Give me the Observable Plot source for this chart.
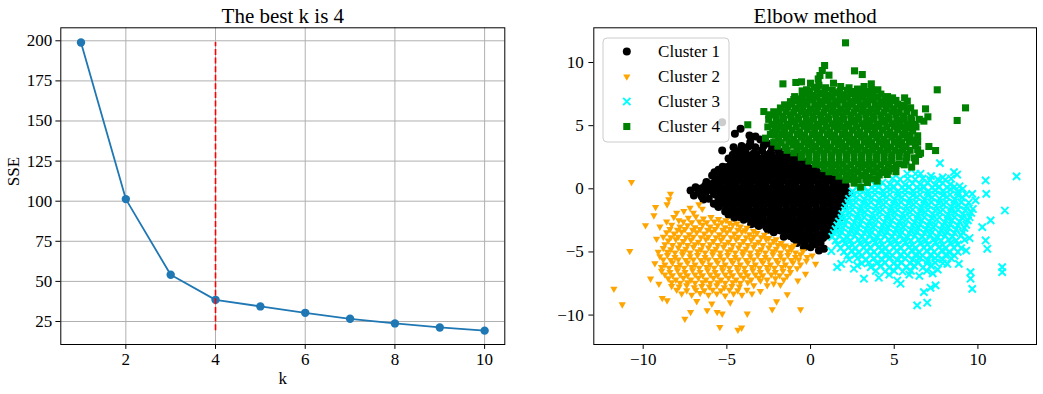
<!DOCTYPE html>
<html><head><meta charset="utf-8">
<script src="https://cdn.jsdelivr.net/npm/d3@7"></script>
<script src="https://cdn.jsdelivr.net/npm/@observablehq/plot@0.6"></script>
<style>
body{margin:0;background:#fff;}
#wrap{position:relative;width:1043px;height:394px;overflow:hidden;background:#fff;}
</style></head><body><div id="wrap"></div>
<script>
// ---------- data: elbow curve ----------
const kValues = [1,2,3,4,5,6,7,8,9,10];
const sseValues = [198.9,101.3,54.1,38.5,34.4,30.4,26.7,23.8,21.3,19.3];
const bestK = 4;
const kTicks = [2,4,6,8,10];
const sseTicks = [25,50,75,100,125,150,175,200];
const leftTitle = "The best k is 4";
const rightTitle = "Elbow method";

// ---------- data: clusters ----------
const clusterNames = ["Cluster 1","Cluster 2","Cluster 3","Cluster 4"];
const xyTicks = [-10,-5,0,5,10];
const cluster1 = [
[-4.18,4.75],[-4.52,4.35],[-3.65,4.22],[-3.29,4.14],[-5.28,5.28],
[-4.12,3.38],[-3.6,3.7],[-3.0,3.9],[-2.6,3.6],[-3.3,3.3],[-2.3,3.2],
[-5.28,3.03],[-4.4,2.9],[-3.9,3.0],[-3.4,2.8],[-2.9,3.05],[-2.4,2.85],[-1.9,3.0],[-1.6,2.7],
[-4.9,2.4],[-4.4,2.5],[-3.95,2.35],[-3.5,2.55],[-3.0,2.4],[-2.55,2.5],[-2.1,2.35],[-1.6,2.5],[-1.15,2.3],[-0.9,2.55],
[-4.74,1.98],[-4.98,1.72],[-4.5,2.05],[-4.0,1.9],[-3.55,2.1],[-3.1,1.85],[-2.6,2.05],[-2.15,1.9],[-1.7,2.1],[-1.25,1.85],[-0.8,2.05],[-0.35,1.9],
[-5.5,1.5],[-5.05,1.4],[-4.6,1.55],[-4.15,1.4],[-3.7,1.6],[-3.25,1.45],[-2.8,1.55],[-2.35,1.4],[-1.9,1.6],[-1.45,1.4],[-1.0,1.55],[-0.55,1.45],[-0.1,1.6],[0.35,1.4],[0.6,1.2],
[-5.74,1.32],[-5.88,1.06],[-5.4,0.95],[-4.95,1.05],[-4.5,0.9],[-4.05,1.1],[-3.6,0.95],[-3.15,1.05],[-2.7,0.9],[-2.25,1.1],[-1.8,0.95],[-1.35,1.05],[-0.9,0.9],[-0.45,1.1],[0.0,0.95],[0.45,1.05],[0.9,0.9],[1.3,1.0],
[-6.22,0.53],[-5.8,0.45],[-5.35,0.55],[-4.9,0.4],[-4.45,0.6],[-4.0,0.45],[-3.55,0.55],[-3.1,0.4],[-2.65,0.6],[-2.2,0.45],[-1.75,0.55],[-1.3,0.4],[-0.85,0.6],[-0.4,0.45],[0.05,0.55],[0.5,0.4],[0.95,0.6],[1.4,0.5],[1.79,0.53],[1.39,0.13],
[-6.87,0.13],[-7.17,-0.13],[-6.5,0.05],[-6.05,-0.05],[-5.6,0.1],[-5.15,-0.05],[-4.7,0.05],[-4.25,-0.1],[-3.8,0.05],[-3.35,-0.05],[-2.9,0.1],[-2.45,-0.05],[-2.0,0.05],[-1.55,-0.1],[-1.1,0.05],[-0.65,-0.05],[-0.2,0.1],[0.25,-0.05],[0.7,0.05],[1.15,-0.1],[1.6,0.05],[2.0,-0.05],[2.29,-0.34],
[-6.97,-0.53],[-6.5,-0.6],[-6.08,-0.79],[-5.7,-0.45],[-5.25,-0.6],[-4.8,-0.45],[-4.35,-0.55],[-3.9,-0.4],[-3.45,-0.6],[-3.0,-0.45],[-2.55,-0.55],[-2.1,-0.4],[-1.65,-0.6],[-1.2,-0.45],[-0.75,-0.55],[-0.3,-0.4],[0.15,-0.6],[0.6,-0.45],[1.05,-0.55],[1.5,-0.4],[1.95,-0.6],
[-5.78,-1.19],[-5.3,-1.05],[-4.85,-0.95],[-4.4,-1.1],[-3.95,-0.95],[-3.5,-1.05],[-3.05,-0.9],[-2.6,-1.1],[-2.15,-0.95],[-1.7,-1.05],[-1.25,-0.9],[-0.8,-1.1],[-0.35,-0.95],[0.1,-1.05],[0.55,-0.9],[1.0,-1.1],[1.45,-0.95],[1.85,-1.05],
[-5.5,-1.45],[-5.05,-1.6],[-4.6,-1.45],[-4.15,-1.55],[-3.7,-1.4],[-3.25,-1.6],[-2.8,-1.45],[-2.35,-1.55],[-1.9,-1.4],[-1.45,-1.6],[-1.0,-1.45],[-0.55,-1.55],[-0.1,-1.4],[0.35,-1.6],[0.8,-1.45],[1.25,-1.55],[1.7,-1.45],
[-4.9,-2.05],[-4.45,-1.95],[-4.0,-2.1],[-3.55,-1.95],[-3.1,-2.05],[-2.65,-1.9],[-2.2,-2.1],[-1.75,-1.95],[-1.3,-2.05],[-0.85,-1.9],[-0.4,-2.1],[0.05,-1.95],[0.5,-2.05],[0.95,-1.9],[1.4,-2.1],[1.79,-2.24],
[-4.0,-2.45],[-3.55,-2.55],[-3.1,-2.4],[-2.65,-2.6],[-2.2,-2.45],[-1.75,-2.55],[-1.3,-2.4],[-0.85,-2.6],[-0.4,-2.45],[0.05,-2.55],[0.5,-2.4],[0.95,-2.6],[1.35,-2.45],
[-3.1,-2.95],[-2.65,-3.05],[-2.2,-2.9],[-1.75,-3.1],[-1.3,-2.95],[-0.85,-3.05],[-0.4,-2.9],[0.05,-3.1],[0.5,-2.95],[0.95,-3.05],[1.49,-3.03],[1.2,-3.3],
[-2.2,-3.45],[-1.79,-3.3],[-1.39,-3.56],[-0.95,-3.45],[-0.5,-3.55],[-0.05,-3.4],[0.4,-3.6],[0.85,-3.45],
[-1.0,-3.96],[-0.6,-4.1],[-0.15,-3.95],[0.3,-4.05],[0.75,-3.9],
[-0.4,-4.62],[0.0,-4.62],[0.3,-4.4],[0.5,-4.88],[0.8,-4.75],[0.6,-4.3],
[-4.6,3.3],[-4.15,3.2],[-3.7,3.35],[-2.8,3.4],[-2.05,3.35],
[-4.65,2.7],[-4.2,2.75],[-3.75,2.65],[-3.25,2.75],[-2.75,2.7],[-2.3,2.65],[-1.85,2.75],[-1.35,2.65],
[-4.75,2.2],[-4.25,2.25],[-3.8,2.2],[-3.3,2.25],[-2.85,2.2],[-2.4,2.25],[-1.9,2.2],[-1.45,2.25],[-1.0,2.2],[-0.55,2.2],[-0.2,2.15],
[-5.25,1.75],[-4.3,1.75],[-3.8,1.7],[-3.35,1.75],[-2.85,1.7],[-2.4,1.75],[-1.95,1.7],[-1.5,1.75],[-1.05,1.7],[-0.6,1.75],[-0.15,1.7],[0.3,1.7],
[-5.2,1.25],[-4.75,1.2],[-4.3,1.25],[-3.85,1.2],[-3.4,1.25],[-2.95,1.2],[-2.5,1.25],[-2.05,1.2],[-1.6,1.25],[-1.15,1.2],[-0.7,1.25],[-0.25,1.2],[0.2,1.25],[0.65,1.2],[1.1,1.25],
[-5.65,0.75],[-5.2,0.7],[-4.75,0.75],[-4.3,0.7],[-3.85,0.75],[-3.4,0.7],[-2.95,0.75],[-2.5,0.7],[-2.05,0.75],[-1.6,0.7],[-1.15,0.75],[-0.7,0.7],[-0.25,0.75],[0.2,0.7],[0.65,0.75],[1.1,0.7],[1.55,0.75],
[-6.3,0.25],[-5.85,0.2],[-5.4,0.25],[-4.95,0.2],[-4.5,0.25],[-4.05,0.2],[-3.6,0.25],[-3.15,0.2],[-2.7,0.25],[-2.25,0.2],[-1.8,0.25],[-1.35,0.2],[-0.9,0.25],[-0.45,0.2],[0.0,0.25],[0.45,0.2],[0.9,0.25],[1.35,0.3],[1.8,0.2],[2.1,0.25],
[-6.7,-0.3],[-6.25,-0.25],[-5.8,-0.3],[-5.35,-0.25],[-4.9,-0.3],[-4.45,-0.25],[-4.0,-0.3],[-3.55,-0.25],[-3.1,-0.3],[-2.65,-0.25],[-2.2,-0.3],[-1.75,-0.25],[-1.3,-0.3],[-0.85,-0.25],[-0.4,-0.3],[0.05,-0.25],[0.5,-0.3],[0.95,-0.25],[1.4,-0.3],[1.85,-0.25],
[-6.4,-0.85],[-5.5,-0.8],[-5.05,-0.75],[-4.6,-0.8],[-4.15,-0.75],[-3.7,-0.8],[-3.25,-0.75],[-2.8,-0.8],[-2.35,-0.75],[-1.9,-0.8],[-1.45,-0.75],[-1.0,-0.8],[-0.55,-0.75],[-0.1,-0.8],[0.35,-0.75],[0.8,-0.8],[1.25,-0.75],[1.7,-0.8],[2.1,-0.75],
[-5.55,-1.3],[-5.1,-1.25],[-4.65,-1.3],[-4.2,-1.25],[-3.75,-1.3],[-3.3,-1.25],[-2.85,-1.3],[-2.4,-1.25],[-1.95,-1.3],[-1.5,-1.25],[-1.05,-1.3],[-0.6,-1.25],[-0.15,-1.3],[0.3,-1.25],[0.75,-1.3],[1.2,-1.25],[1.65,-1.3],[2.0,-1.3],
[-5.1,-1.8],[-4.7,-1.75],[-4.25,-1.8],[-3.8,-1.75],[-3.35,-1.8],[-2.9,-1.75],[-2.45,-1.8],[-2.0,-1.75],[-1.55,-1.8],[-1.1,-1.75],[-0.65,-1.8],[-0.2,-1.75],[0.25,-1.8],[0.7,-1.75],[1.15,-1.8],[1.6,-1.75],
[-4.55,-2.3],[-4.2,-2.25],[-3.75,-2.3],[-3.3,-2.25],[-2.85,-2.3],[-2.4,-2.25],[-1.95,-2.3],[-1.5,-2.25],[-1.05,-2.3],[-0.6,-2.25],[-0.15,-2.3],[0.3,-2.25],[0.75,-2.3],[1.2,-2.25],[1.55,-2.3],
[-3.55,-2.8],[-3.3,-2.75],[-2.85,-2.8],[-2.4,-2.75],[-1.95,-2.8],[-1.5,-2.75],[-1.05,-2.8],[-0.6,-2.75],[-0.15,-2.8],[0.3,-2.75],[0.75,-2.8],[1.2,-2.75],[1.5,-2.7],
[-2.55,-3.25],[-2.4,-3.2],[-1.95,-3.25],[-1.5,-3.2],[-1.05,-3.25],[-0.6,-3.2],[-0.15,-3.25],[0.3,-3.2],[0.75,-3.25],[1.0,-3.4],
[-1.6,-3.8],[-1.2,-3.75],[-0.75,-3.8],[-0.3,-3.75],[0.15,-3.8],[0.6,-3.75],[1.0,-3.7],
[-0.8,-4.3],[-0.35,-4.3],[0.1,-4.25]
];
const cluster2 = [
[-10.7,0.53],[-9.86,-2.9],[-8.37,-0.4],[-8.47,-0.84],[-8.57,-1.24],[-9.26,-1.45],[-9.36,-2.11],[-6.67,-1.24],[-6.47,-1.58],[-7.57,-1.77],[-7.87,-2.5],[-8.17,-2.24],
[-8.0,-1.9],[-8.6,-2.6],[-9.0,-3.0],[-7.2,-1.5],[-7.0,-1.9],
[-7.3,-2.3],[-6.85,-2.2],[-6.4,-2.35],[-5.95,-2.25],[-5.5,-2.4],[-5.05,-2.5],
[-8.3,-2.85],[-7.8,-3.0],[-7.35,-2.9],[-6.9,-3.05],[-6.45,-2.85],[-6.0,-3.0],[-5.55,-2.9],[-5.1,-3.05],[-4.65,-2.85],[-4.2,-3.0],[-3.8,-3.1],
[-8.6,-3.45],[-8.15,-3.55],[-7.7,-3.4],[-7.25,-3.6],[-6.8,-3.45],[-6.35,-3.55],[-5.9,-3.4],[-5.45,-3.6],[-5.0,-3.45],[-4.55,-3.55],[-4.1,-3.4],[-3.65,-3.6],[-3.2,-3.5],[-2.75,-3.65],
[-9.2,-3.96],[-8.5,-4.1],[-8.05,-4.0],[-7.6,-4.15],[-7.15,-4.05],[-6.7,-4.2],[-6.25,-4.0],[-5.8,-4.15],[-5.35,-4.05],[-4.9,-4.2],[-4.45,-4.0],[-4.0,-4.15],[-3.55,-4.05],[-3.1,-4.2],[-2.65,-4.0],[-2.2,-4.15],[-1.75,-4.3],[-1.2,-4.62],
[-10.8,-4.93],[-8.8,-4.7],[-8.35,-4.8],[-7.9,-4.65],[-7.45,-4.75],[-7.0,-4.6],[-6.55,-4.8],[-6.1,-4.65],[-5.65,-4.75],[-5.2,-4.6],[-4.75,-4.8],[-4.3,-4.65],[-3.85,-4.75],[-3.4,-4.6],[-2.95,-4.8],[-2.5,-4.65],[-2.05,-4.75],[-1.6,-4.6],[-1.15,-4.8],[-0.6,-5.2],
[-9.0,-5.35],[-8.55,-5.25],[-8.1,-5.4],[-7.65,-5.2],[-7.2,-5.35],[-6.75,-5.25],[-6.3,-5.4],[-5.85,-5.2],[-5.4,-5.35],[-4.95,-5.25],[-4.5,-5.4],[-4.05,-5.2],[-3.6,-5.35],[-3.15,-5.25],[-2.7,-5.4],[-2.25,-5.2],[-1.8,-5.35],[-1.35,-5.25],[-0.9,-5.4],[-0.2,-5.41],[0.1,-5.28],
[-9.3,-5.9],[-8.7,-6.0],[-8.25,-5.85],[-7.8,-6.0],[-7.35,-5.85],[-6.9,-6.0],[-6.45,-5.85],[-6.0,-6.0],[-5.55,-5.85],[-5.1,-6.0],[-4.65,-5.85],[-4.2,-6.0],[-3.75,-5.85],[-3.3,-6.0],[-2.85,-5.85],[-2.4,-6.0],[-1.95,-5.85],[-1.5,-6.0],[-1.05,-5.85],[-0.6,-6.0],[0.3,-5.94],
[-8.9,-6.5],[-8.4,-6.6],[-7.95,-6.45],[-7.5,-6.6],[-7.05,-6.45],[-6.6,-6.6],[-6.15,-6.45],[-5.7,-6.6],[-5.25,-6.45],[-4.8,-6.6],[-4.35,-6.45],[-3.9,-6.6],[-3.45,-6.45],[-3.0,-6.6],[-2.55,-6.45],[-2.1,-6.6],[-1.65,-6.5],[-1.2,-6.6],[-0.3,-6.73],
[-9.56,-7.12],[-8.5,-7.1],[-8.05,-7.2],[-7.6,-7.05],[-7.15,-7.2],[-6.7,-7.05],[-6.25,-7.2],[-5.8,-7.05],[-5.35,-7.2],[-4.9,-7.05],[-4.45,-7.2],[-4.0,-7.05],[-3.55,-7.2],[-3.1,-7.05],[-2.6,-7.2],[-2.1,-7.1],[-1.6,-7.2],[-0.76,-7.26],
[-9.06,-7.52],[-8.3,-7.7],[-7.85,-7.75],[-7.4,-7.65],[-6.95,-7.8],[-6.5,-7.7],[-6.05,-7.75],[-5.6,-7.65],[-5.15,-7.8],[-4.7,-7.7],[-4.25,-7.75],[-3.39,-7.65],[-2.99,-7.26],[-2.59,-7.65],[-1.39,-8.36],
[-7.7,-8.3],[-7.1,-8.4],[-6.6,-8.25],[-6.1,-8.4],[-5.6,-8.3],[-5.1,-8.45],[-4.6,-8.3],[-4.1,-8.4],[-3.5,-8.3],
[-8.86,-8.65],[-8.57,-8.84],[-7.51,-10.29],[-7.17,-9.76],[-6.18,-9.63],[-5.58,-9.76],[-5.28,-9.89],[-5.42,-10.95],[-4.34,-11.16],[-4.12,-11.0],[-3.78,-9.89],[-2.29,-9.55],[-2.03,-8.92],[-0.6,-9.55],[-6.8,-8.9],[-5.9,-9.1],[-4.8,-9.0],[-11.75,-7.92],[-11.25,-9.16],
[-7.6,-2.6],[-7.1,-2.65],[-6.65,-2.6],[-6.2,-2.65],[-5.75,-2.6],[-5.3,-2.65],[-4.85,-2.7],[-4.4,-2.75],
[-8.4,-3.2],[-7.95,-3.25],[-7.5,-3.2],[-7.05,-3.25],[-6.6,-3.2],[-6.15,-3.25],[-5.7,-3.2],[-5.25,-3.25],[-4.8,-3.2],[-4.35,-3.25],[-3.9,-3.3],[-3.4,-3.35],
[-8.8,-3.8],[-8.35,-3.85],[-7.9,-3.8],[-7.45,-3.85],[-7.0,-3.8],[-6.55,-3.85],[-6.1,-3.8],[-5.65,-3.85],[-5.2,-3.8],[-4.75,-3.85],[-4.3,-3.8],[-3.85,-3.85],[-3.4,-3.8],[-2.95,-3.85],[-2.5,-3.9],[-2.05,-4.0],
[-8.7,-4.4],[-8.25,-4.45],[-7.8,-4.4],[-7.35,-4.45],[-6.9,-4.4],[-6.45,-4.45],[-6.0,-4.4],[-5.55,-4.45],[-5.1,-4.4],[-4.65,-4.45],[-4.2,-4.4],[-3.75,-4.45],[-3.3,-4.4],[-2.85,-4.45],[-2.4,-4.4],[-1.95,-4.45],[-1.5,-4.5],[-1.0,-4.5],
[-9.1,-5.0],[-8.55,-5.0],[-8.1,-5.05],[-7.65,-4.95],[-7.2,-5.05],[-6.75,-4.95],[-6.3,-5.05],[-5.85,-4.95],[-5.4,-5.05],[-4.95,-4.95],[-4.5,-5.05],[-4.05,-4.95],[-3.6,-5.05],[-3.15,-4.95],[-2.7,-5.05],[-2.25,-4.95],[-1.8,-5.05],[-1.35,-4.95],[-0.9,-5.05],[-0.45,-4.95],
[-8.8,-5.6],[-8.35,-5.65],[-7.9,-5.6],[-7.45,-5.65],[-7.0,-5.6],[-6.55,-5.65],[-6.1,-5.6],[-5.65,-5.65],[-5.2,-5.6],[-4.75,-5.65],[-4.3,-5.6],[-3.85,-5.65],[-3.4,-5.6],[-2.95,-5.65],[-2.5,-5.6],[-2.05,-5.65],[-1.6,-5.6],[-1.15,-5.65],[-0.7,-5.6],[-0.25,-5.7],
[-8.9,-6.2],[-8.45,-6.25],[-8.0,-6.2],[-7.55,-6.25],[-7.1,-6.2],[-6.65,-6.25],[-6.2,-6.2],[-5.75,-6.25],[-5.3,-6.2],[-4.85,-6.25],[-4.4,-6.2],[-3.95,-6.25],[-3.5,-6.2],[-3.05,-6.25],[-2.6,-6.2],[-2.15,-6.25],[-1.7,-6.2],[-1.25,-6.25],[-0.8,-6.3],
[-8.7,-6.8],[-8.25,-6.85],[-7.8,-6.8],[-7.35,-6.85],[-6.9,-6.8],[-6.45,-6.85],[-6.0,-6.8],[-5.55,-6.85],[-5.1,-6.8],[-4.65,-6.85],[-4.2,-6.8],[-3.75,-6.85],[-3.3,-6.8],[-2.85,-6.85],[-2.35,-6.8],[-1.85,-6.85],[-1.4,-6.9],
[-8.3,-7.4],[-7.8,-7.45],[-7.35,-7.4],[-6.9,-7.45],[-6.45,-7.4],[-6.0,-7.45],[-5.55,-7.4],[-5.1,-7.45],[-4.65,-7.4],[-4.2,-7.45],[-3.75,-7.4],[-2.2,-7.5],[-1.8,-7.6],
[-8.0,-8.0],[-7.4,-8.05],[-6.85,-8.0],[-6.35,-8.05],[-5.85,-8.0],[-5.35,-8.05],[-4.85,-8.0],[-4.35,-8.05],[-3.8,-8.0],[-3.0,-8.1]
];
const cluster3 = [
[5.78,1.19],[6.27,1.19],[6.57,1.19],[8.57,1.32],[8.76,1.13],[7.73,2.03],[12.31,0.98],[10.46,0.66],[7.2,1.0],[7.9,0.9],
[3.4,0.45],[3.85,0.3],[4.3,0.5],[4.75,0.35],[5.2,0.5],[5.65,0.3],[6.1,0.45],[6.55,0.35],[7.0,0.5],[7.45,0.3],[7.9,0.45],[8.35,0.35],[8.9,0.2],[10.5,-0.4],
[2.5,-0.2],[2.95,-0.1],[3.4,-0.25],[3.85,-0.1],[4.3,-0.2],[4.75,-0.05],[5.2,-0.25],[5.65,-0.1],[6.1,-0.2],[6.55,-0.05],[7.0,-0.25],[7.45,-0.1],[7.9,-0.2],[8.35,-0.05],[8.8,-0.25],[9.66,-0.4],
[2.3,-0.8],[2.75,-0.7],[3.2,-0.85],[3.65,-0.7],[4.1,-0.8],[4.55,-0.65],[5.0,-0.85],[5.45,-0.7],[5.9,-0.8],[6.35,-0.65],[6.8,-0.85],[7.25,-0.7],[7.7,-0.8],[8.15,-0.65],[8.6,-0.85],[9.05,-0.7],[9.86,-0.92],
[2.1,-1.4],[2.55,-1.3],[3.0,-1.45],[3.45,-1.3],[3.9,-1.4],[4.35,-1.25],[4.8,-1.45],[5.25,-1.3],[5.7,-1.4],[6.15,-1.25],[6.6,-1.45],[7.05,-1.3],[7.5,-1.4],[7.95,-1.25],[8.4,-1.45],[8.85,-1.3],[9.3,-1.4],[11.61,-1.72],
[1.9,-2.0],[2.35,-1.9],[2.8,-2.05],[3.25,-1.9],[3.7,-2.0],[4.15,-1.85],[4.6,-2.05],[5.05,-1.9],[5.5,-2.0],[5.95,-1.85],[6.4,-2.05],[6.85,-1.9],[7.3,-2.0],[7.75,-1.85],[8.2,-2.05],[8.65,-1.9],[9.1,-2.0],[9.6,-1.9],
[1.7,-2.6],[2.15,-2.5],[2.6,-2.65],[3.05,-2.5],[3.5,-2.6],[3.95,-2.45],[4.4,-2.65],[4.85,-2.5],[5.3,-2.6],[5.75,-2.45],[6.2,-2.65],[6.65,-2.5],[7.1,-2.6],[7.55,-2.45],[8.0,-2.65],[8.45,-2.5],[8.9,-2.6],[9.4,-2.5],[10.76,-2.5],
[1.5,-3.2],[1.95,-3.1],[2.4,-3.25],[2.85,-3.1],[3.3,-3.2],[3.75,-3.05],[4.2,-3.25],[4.65,-3.1],[5.1,-3.2],[5.55,-3.05],[6.0,-3.25],[6.45,-3.1],[6.9,-3.2],[7.35,-3.05],[7.8,-3.25],[8.25,-3.1],[8.7,-3.2],[9.2,-3.1],[10.26,-3.03],
[1.3,-3.8],[1.75,-3.7],[2.2,-3.85],[2.65,-3.7],[3.1,-3.8],[3.55,-3.65],[4.0,-3.85],[4.45,-3.7],[4.9,-3.8],[5.35,-3.65],[5.8,-3.85],[6.25,-3.7],[6.7,-3.8],[7.15,-3.65],[7.6,-3.85],[8.05,-3.7],[8.5,-3.8],[9.0,-3.7],[9.5,-3.9],[10.46,-4.09],
[1.24,-4.93],[1.6,-4.4],[2.05,-4.3],[2.5,-4.45],[2.95,-4.3],[3.4,-4.4],[3.85,-4.25],[4.3,-4.45],[4.75,-4.3],[5.2,-4.4],[5.65,-4.25],[6.1,-4.45],[6.55,-4.3],[7.0,-4.4],[7.45,-4.25],[7.9,-4.45],[8.35,-4.3],[8.8,-4.4],[10.56,-4.75],
[2.0,-5.0],[2.45,-4.9],[2.9,-5.05],[3.35,-4.9],[3.8,-5.0],[4.25,-4.85],[4.7,-5.05],[5.15,-4.9],[5.6,-5.0],[6.05,-4.85],[6.5,-5.05],[6.95,-4.9],[7.4,-5.0],[7.85,-4.85],[8.3,-5.05],[8.8,-5.0],[9.3,-4.9],
[2.3,-5.6],[2.8,-5.5],[3.3,-5.65],[3.8,-5.5],[4.3,-5.6],[4.75,-5.45],[5.2,-5.65],[5.65,-5.5],[6.1,-5.6],[6.55,-5.45],[7.0,-5.65],[7.45,-5.5],[7.9,-5.6],[8.4,-5.5],
[1.59,-6.2],[1.83,-5.94],[2.59,-6.33],[2.79,-6.07],[3.6,-6.2],[4.2,-6.1],[4.7,-6.25],[5.2,-6.1],[5.7,-6.2],[6.2,-6.1],[6.7,-6.25],[7.2,-6.1],[8.17,-5.94],[8.86,-5.94],[11.45,-6.2],[11.45,-6.6],[9.56,-6.6],
[3.19,-7.12],[4.08,-7.04],[5.18,-7.26],[5.38,-7.52],[4.7,-6.8],[5.9,-6.8],[6.5,-6.9],[7.3,-6.7],[6.77,-8.18],[7.17,-7.84],[7.47,-7.65],[6.37,-9.23],[6.97,-9.02],[9.56,-7.12],[9.66,-7.92],
[4.9,0.8],[5.35,0.75],[5.8,0.8],[6.25,0.75],[6.7,0.8],[7.15,0.7],[7.6,0.75],[8.05,0.7],[8.4,0.8],
[2.75,0.1],[3.2,0.15],[3.65,0.1],[4.1,0.15],[4.55,0.1],[5.0,0.15],[5.45,0.1],[5.9,0.15],[6.35,0.1],[6.8,0.15],[7.25,0.1],[7.7,0.15],[8.15,0.1],[8.6,0.15],[9.1,0.0],
[2.5,-0.5],[2.95,-0.45],[3.4,-0.5],[3.85,-0.45],[4.3,-0.5],[4.75,-0.45],[5.2,-0.5],[5.65,-0.45],[6.1,-0.5],[6.55,-0.45],[7.0,-0.5],[7.45,-0.45],[7.9,-0.5],[8.35,-0.45],[8.8,-0.5],[9.3,-0.45],
[2.25,-1.1],[2.7,-1.05],[3.15,-1.1],[3.6,-1.05],[4.05,-1.1],[4.5,-1.05],[4.95,-1.1],[5.4,-1.05],[5.85,-1.1],[6.3,-1.05],[6.75,-1.1],[7.2,-1.05],[7.65,-1.1],[8.1,-1.05],[8.55,-1.1],[9.0,-1.05],[9.45,-1.1],
[2.05,-1.7],[2.5,-1.65],[2.95,-1.7],[3.4,-1.65],[3.85,-1.7],[4.3,-1.65],[4.75,-1.7],[5.2,-1.65],[5.65,-1.7],[6.1,-1.65],[6.55,-1.7],[7.0,-1.65],[7.45,-1.7],[7.9,-1.65],[8.35,-1.7],[8.8,-1.65],[9.25,-1.7],[9.7,-1.6],
[1.85,-2.3],[2.3,-2.25],[2.75,-2.3],[3.2,-2.25],[3.65,-2.3],[4.1,-2.25],[4.55,-2.3],[5.0,-2.25],[5.45,-2.3],[5.9,-2.25],[6.35,-2.3],[6.8,-2.25],[7.25,-2.3],[7.7,-2.25],[8.15,-2.3],[8.6,-2.25],[9.05,-2.3],[9.5,-2.25],
[1.6,-2.9],[2.05,-2.85],[2.5,-2.9],[2.95,-2.85],[3.4,-2.9],[3.85,-2.85],[4.3,-2.9],[4.75,-2.85],[5.2,-2.9],[5.65,-2.85],[6.1,-2.9],[6.55,-2.85],[7.0,-2.9],[7.45,-2.85],[7.9,-2.9],[8.35,-2.85],[8.8,-2.9],[9.3,-2.85],
[1.4,-3.5],[1.85,-3.45],[2.3,-3.5],[2.75,-3.45],[3.2,-3.5],[3.65,-3.45],[4.1,-3.5],[4.55,-3.45],[5.0,-3.5],[5.45,-3.45],[5.9,-3.5],[6.35,-3.45],[6.8,-3.5],[7.25,-3.45],[7.7,-3.5],[8.15,-3.45],[8.6,-3.5],[9.1,-3.45],
[1.5,-4.1],[1.95,-4.05],[2.4,-4.1],[2.85,-4.05],[3.3,-4.1],[3.75,-4.05],[4.2,-4.1],[4.65,-4.05],[5.1,-4.1],[5.55,-4.05],[6.0,-4.1],[6.45,-4.05],[6.9,-4.1],[7.35,-4.05],[7.8,-4.1],[8.25,-4.05],[8.7,-4.1],[9.2,-4.05],
[1.8,-4.7],[2.25,-4.65],[2.7,-4.7],[3.15,-4.65],[3.6,-4.7],[4.05,-4.65],[4.5,-4.7],[4.95,-4.65],[5.4,-4.7],[5.85,-4.65],[6.3,-4.7],[6.75,-4.65],[7.2,-4.7],[7.65,-4.65],[8.1,-4.7],[8.55,-4.65],[9.0,-4.7],
[2.2,-5.3],[2.65,-5.25],[3.1,-5.3],[3.55,-5.25],[4.0,-5.3],[4.45,-5.25],[4.9,-5.3],[5.35,-5.25],[5.8,-5.3],[6.25,-5.25],[6.7,-5.3],[7.15,-5.25],[7.6,-5.3],[8.05,-5.25],[8.6,-5.3],
[3.05,-5.9],[3.5,-5.85],[3.95,-5.9],[4.45,-5.85],[4.95,-5.9],[5.45,-5.85],[5.95,-5.9],[6.45,-5.85],[6.95,-5.9],[7.45,-5.85],[7.9,-5.9],
[3.9,-6.5],[4.45,-6.55],[5.0,-6.5],[5.5,-6.55],[6.0,-6.5],[6.95,-6.5],[7.6,-6.4]
];
const cluster4 = [
[2.09,11.56],[2.63,9.34],[3.09,9.05],[0.84,9.76],[0.7,9.37],[0.56,8.97],[0.46,8.7],[1.1,9.0],
[-1.65,8.31],[-0.88,8.42],[-0.54,8.47],[0.0,8.36],[1.37,8.36],[3.63,8.31],[4.02,7.84],[3.65,7.84],[-0.24,7.84],[0.2,8.05],[0.5,8.2],[0.9,8.0],[1.8,8.1],[2.3,8.0],[2.8,7.9],[3.2,8.1],
[-1.0,7.07],[-0.68,7.12],[-0.3,7.5],[0.15,7.4],[0.6,7.55],[1.05,7.4],[1.5,7.6],[1.95,7.45],[2.4,7.55],[2.85,7.4],[3.3,7.5],[3.75,7.35],[4.2,7.5],[4.6,7.3],[7.57,7.84],[5.62,7.2],[5.78,6.94],
[-1.2,6.9],[-0.75,7.0],[-0.3,6.95],[0.15,7.05],[0.6,6.9],[1.05,7.0],[1.5,6.95],[1.95,7.05],[2.4,6.9],[2.85,7.0],[3.3,6.95],[3.75,7.05],[4.2,6.9],[4.68,6.86],[5.1,7.0],
[-2.79,6.12],[-2.49,5.86],[-2.09,5.86],[-1.8,6.4],[-1.35,6.5],[-0.9,6.35],[-0.45,6.45],[0.0,6.3],[0.45,6.5],[0.9,6.35],[1.35,6.45],[1.8,6.3],[2.25,6.5],[2.7,6.35],[3.15,6.45],[3.6,6.3],[4.05,6.5],[4.5,6.35],[4.98,6.33],[5.4,6.5],[5.98,6.41],[6.87,6.33],[9.26,6.41],
[-1.65,5.75],[-1.2,5.85],[-0.75,5.7],[-0.3,5.9],[0.15,5.75],[0.6,5.85],[1.05,5.7],[1.5,5.9],[1.95,5.75],[2.4,5.85],[2.85,5.7],[3.3,5.9],[3.75,5.75],[4.2,5.85],[4.65,5.7],[5.1,5.9],[5.55,5.75],[6.0,5.6],[7.01,5.7],[6.77,5.36],[8.76,5.41],
[-2.3,5.1],[-1.85,5.25],[-1.4,5.1],[-0.95,5.3],[-0.5,5.15],[-0.05,5.25],[0.4,5.1],[0.85,5.3],[1.3,5.15],[1.75,5.25],[2.2,5.1],[2.65,5.3],[3.1,5.15],[3.55,5.25],[4.0,5.1],[4.45,5.3],[4.9,5.15],[5.35,5.25],[5.78,5.09],[6.24,5.09],
[-3.75,5.07],[-2.25,4.49],[-1.99,4.75],[-1.55,4.55],[-1.1,4.65],[-0.65,4.5],[-0.2,4.7],[0.25,4.55],[0.7,4.65],[1.15,4.5],[1.6,4.7],[2.05,4.55],[2.5,4.65],[2.95,4.5],[3.4,4.7],[3.85,4.55],[4.3,4.65],[4.75,4.5],[5.2,4.7],[5.65,4.55],[6.1,4.6],
[-2.69,4.01],[-1.9,3.95],[-1.45,4.05],[-1.0,3.9],[-0.55,4.1],[-0.1,3.95],[0.35,4.05],[0.8,3.9],[1.25,4.1],[1.7,3.95],[2.15,4.05],[2.6,3.9],[3.05,4.1],[3.5,3.95],[3.95,4.05],[4.4,3.9],[4.85,4.1],[5.3,3.95],[5.75,4.05],[6.1,3.85],
[-1.95,3.38],[-1.5,3.3],[-1.05,3.45],[-0.6,3.35],[-0.15,3.5],[0.3,3.35],[0.75,3.45],[1.2,3.3],[1.65,3.5],[2.1,3.35],[2.55,3.45],[3.0,3.3],[3.45,3.5],[3.9,3.35],[4.35,3.45],[4.8,3.3],[5.25,3.5],[5.7,3.35],[6.27,3.43],[7.07,3.35],[7.47,3.03],
[-1.0,2.85],[-0.55,2.75],[-0.1,2.9],[0.35,2.75],[0.8,2.85],[1.25,2.7],[1.7,2.9],[2.15,2.75],[2.6,2.85],[3.05,2.7],[3.5,2.9],[3.95,2.75],[4.4,2.85],[4.85,2.7],[5.3,2.9],[5.75,2.75],[6.47,2.72],[6.57,2.82],
[-0.1,2.2],[0.35,2.3],[0.8,2.15],[1.25,2.25],[1.7,2.1],[2.15,2.3],[2.6,2.15],[3.05,2.25],[3.5,2.1],[3.95,2.3],[4.4,2.15],[4.85,2.25],[5.28,1.98],[5.7,2.2],[6.27,2.19],
[0.8,1.6],[1.25,1.7],[1.7,1.55],[2.15,1.65],[2.6,1.5],[3.05,1.7],[3.5,1.55],[3.95,1.65],[4.4,1.5],[4.85,1.6],[6.04,1.72],
[1.7,1.0],[2.15,1.1],[2.6,0.95],[3.05,1.05],[3.5,0.9],[3.98,0.61],[4.58,1.13],[4.1,1.1],
[2.6,0.45],[2.99,0.13],[3.4,0.5],
[-0.5,7.75],[-0.05,7.7],[0.4,7.8],[0.85,7.7],[1.3,7.8],[1.75,7.7],[2.2,7.8],[2.65,7.7],[3.1,7.75],[3.5,7.7],
[-0.95,7.3],[-0.5,7.25],[-0.05,7.2],[0.4,7.25],[0.85,7.2],[1.3,7.25],[1.75,7.2],[2.2,7.25],[2.65,7.2],[3.1,7.25],[3.55,7.2],[4.0,7.25],[4.45,7.1],[4.9,7.2],
[-1.55,6.65],[-1.1,6.7],[-0.65,6.65],[-0.2,6.7],[0.25,6.65],[0.7,6.7],[1.15,6.65],[1.6,6.7],[2.05,6.65],[2.5,6.7],[2.95,6.65],[3.4,6.7],[3.85,6.65],[4.3,6.7],[4.75,6.65],[5.2,6.7],[5.6,6.6],
[-2.2,6.1],[-1.9,6.0],[-1.45,6.1],[-1.0,6.05],[-0.55,6.1],[-0.1,6.05],[0.35,6.1],[0.8,6.05],[1.25,6.1],[1.7,6.05],[2.15,6.1],[2.6,6.05],[3.05,6.1],[3.5,6.05],[3.95,6.1],[4.4,6.05],[4.85,6.1],[5.3,6.05],[5.75,6.1],[6.2,6.0],
[-2.5,5.5],[-2.05,5.45],[-1.6,5.5],[-1.15,5.45],[-0.7,5.5],[-0.25,5.45],[0.2,5.5],[0.65,5.45],[1.1,5.5],[1.55,5.45],[2.0,5.5],[2.45,5.45],[2.9,5.5],[3.35,5.45],[3.8,5.5],[4.25,5.45],[4.7,5.5],[5.15,5.45],[5.6,5.5],[6.05,5.4],[6.5,5.5],
[-2.55,4.9],[-2.1,4.95],[-1.75,4.9],[-1.3,4.95],[-0.85,4.9],[-0.4,4.95],[0.05,4.9],[0.5,4.95],[0.95,4.9],[1.4,4.95],[1.85,4.9],[2.3,4.95],[2.75,4.9],[3.2,4.95],[3.65,4.9],[4.1,4.95],[4.55,4.9],[5.0,4.95],[5.45,4.9],[5.9,4.85],[6.3,4.9],
[-2.4,4.3],[-2.1,4.25],[-1.7,4.3],[-1.25,4.25],[-0.8,4.3],[-0.35,4.25],[0.1,4.3],[0.55,4.25],[1.0,4.3],[1.45,4.25],[1.9,4.3],[2.35,4.25],[2.8,4.3],[3.25,4.25],[3.7,4.3],[4.15,4.25],[4.6,4.3],[5.05,4.25],[5.5,4.3],[5.95,4.25],[6.4,4.2],
[-2.2,3.7],[-1.75,3.65],[-1.3,3.7],[-0.85,3.65],[-0.4,3.7],[0.05,3.65],[0.5,3.7],[0.95,3.65],[1.4,3.7],[1.85,3.65],[2.3,3.7],[2.75,3.65],[3.2,3.7],[3.65,3.65],[4.1,3.7],[4.55,3.65],[5.0,3.7],[5.45,3.65],[5.9,3.7],[6.4,3.7],
[-1.4,3.05],[-0.8,3.1],[-0.35,3.05],[0.1,3.1],[0.55,3.05],[1.0,3.1],[1.45,3.05],[1.9,3.1],[2.35,3.05],[2.8,3.1],[3.25,3.05],[3.7,3.1],[4.15,3.05],[4.6,3.1],[5.05,3.05],[5.5,3.1],[5.95,3.05],[6.4,3.1],
[-0.55,2.5],[-0.1,2.55],[0.35,2.5],[0.8,2.55],[1.25,2.5],[1.7,2.55],[2.15,2.5],[2.6,2.55],[3.05,2.5],[3.5,2.55],[3.95,2.5],[4.4,2.55],[4.85,2.5],[5.3,2.55],[5.75,2.5],[6.2,2.45],
[0.3,1.95],[0.6,1.9],[1.05,1.95],[1.5,1.9],[1.95,1.95],[2.4,1.9],[2.85,1.95],[3.3,1.9],[3.75,1.95],[4.2,1.9],[4.65,1.95],[5.1,1.85],[5.6,1.9],
[1.1,1.35],[1.5,1.3],[1.95,1.35],[2.4,1.3],[2.85,1.35],[3.3,1.3],[3.75,1.35],[4.2,1.3],[4.65,1.4],[5.1,1.35],
[2.1,0.7],[2.4,0.75],[2.85,0.7],[3.3,0.75],[3.7,0.8]
];

// ---------- drawing ----------
const serif = '"Liberation Serif","Times New Roman",serif';
const minus = d => d < 0 ? "\u2212" + Math.abs(d) : String(d);
const blank = () => "";
const wrap = document.getElementById("wrap");
const place = (el, l, t) => { el.style.position = "absolute"; el.style.left = l + "px"; el.style.top = t + "px"; wrap.appendChild(el); };
const baseStyle = {fontFamily: serif, fontSize: "17px", color: "black", background: "transparent", overflow: "visible"};

// tick labels as text marks positioned through the scales
const xLabels = (ticks, gap) => Plot.text(ticks, {x: d => d, text: minus, frameAnchor: "bottom", lineAnchor: "middle", dy: gap, fontSize: 17, fill: "black"});
const yLabels = (ticks, gap) => Plot.text(ticks, {y: d => d, text: minus, frameAnchor: "left", textAnchor: "end", lineAnchor: "middle", dx: -gap, fontSize: 17, fill: "black"});

const elbow = kValues.map((k, i) => ({k, sse: sseValues[i]}));

const left = Plot.plot({
  width: 520, height: 394,
  marginLeft: 60.3, marginRight: 15.7, marginTop: 27.3, marginBottom: 50,
  style: baseStyle,
  x: {domain: [0.55, 10.45]},
  y: {domain: [10.66, 208.1]},
  marks: [
    Plot.gridX({ticks: kTicks, stroke: "#b0b0b0", strokeOpacity: 1, strokeWidth: 1}),
    Plot.gridY({ticks: sseTicks, stroke: "#b0b0b0", strokeOpacity: 1, strokeWidth: 1}),
    Plot.line(elbow, {x: "k", y: "sse", stroke: "#1f77b4", strokeWidth: 1.8}),
    Plot.dot(elbow, {x: "k", y: "sse", r: 4.2, fill: "#1f77b4"}),
    Plot.ruleX([bestK], {y1: d3.min(sseValues), y2: d3.max(sseValues), stroke: "red", strokeWidth: 1.6, strokeDasharray: "6,2.6"}),
    Plot.frame({stroke: "black", strokeWidth: 1}),
    Plot.axisX({ticks: kTicks, tickSize: 4.9, label: null, tickFormat: blank}),
    Plot.axisY({ticks: sseTicks, tickSize: 4.9, label: null, tickFormat: blank}),
    xLabels(kTicks, 14.7),
    yLabels(sseTicks, 8.5),
    Plot.text([leftTitle], {text: d => d, frameAnchor: "top", lineAnchor: "middle", dy: -11.6, fontSize: 21}),
    Plot.text(["k"], {text: d => d, frameAnchor: "bottom", lineAnchor: "middle", dy: 34, fontSize: 17}),
    Plot.text(["SSE"], {text: d => d, frameAnchor: "left", lineAnchor: "middle", dx: -47, rotate: -90, fontSize: 17})
  ]
});
place(left, 0, 0);

const px = d => d[0], py = d => d[1];
const right = Plot.plot({
  width: 523, height: 394,
  marginLeft: 73.3, marginRight: 7, marginTop: 27.3, marginBottom: 50,
  style: baseStyle,
  x: {domain: [-12.95, 13.5]},
  y: {domain: [-12.33, 12.75]},
  marks: [
    Plot.dot(cluster1, {x: px, y: py, r: 4, symbol: "circle", fill: "black"}),
    Plot.dot(cluster2, {x: px, y: py, r: 2.7, symbol: "triangle", rotate: 180, fill: "orange"}),
    Plot.dot(cluster3, {x: px, y: py, r: 3.4, symbol: "times", fill: "none", stroke: "cyan", strokeWidth: 2}),
    Plot.dot(cluster4, {x: px, y: py, r: 4, symbol: "square", fill: "green"}),
    Plot.frame({stroke: "black", strokeWidth: 1}),
    Plot.axisX({ticks: xyTicks, tickSize: 4.9, label: null, tickFormat: blank}),
    Plot.axisY({ticks: xyTicks, tickSize: 4.9, label: null, tickFormat: blank}),
    xLabels(xyTicks, 14.7),
    yLabels(xyTicks, 10),
    Plot.text([rightTitle], {text: d => d, frameAnchor: "top", lineAnchor: "middle", dy: -11.6, fontSize: 21})
  ]
});
place(right, 520, 0);

const legendColors = ["black", "orange", "cyan", "green"];
const legend = Plot.plot({
  width: 127, height: 105, margin: 0,
  style: baseStyle,
  y: {type: "point", domain: clusterNames, range: [14, 89], padding: 0, axis: null},
  marks: [
    Plot.frame({rx: 4, stroke: "#cccccc", fill: "white", fillOpacity: 0.8, inset: 0.5}),
    Plot.dot([clusterNames[0]], {y: d => d, frameAnchor: "left", dx: 24.3, r: 4, symbol: "circle", fill: legendColors[0]}),
    Plot.dot([clusterNames[1]], {y: d => d, frameAnchor: "left", dx: 24.3, r: 2.7, symbol: "triangle", rotate: 180, fill: legendColors[1]}),
    Plot.dot([clusterNames[2]], {y: d => d, frameAnchor: "left", dx: 24.3, r: 3.4, symbol: "times", fill: "none", stroke: legendColors[2], strokeWidth: 2}),
    Plot.dot([clusterNames[3]], {y: d => d, frameAnchor: "left", dx: 24.3, r: 4, symbol: "square", fill: legendColors[3]}),
    Plot.text(clusterNames, {y: d => d, text: d => d, frameAnchor: "left", dx: 55.6, textAnchor: "start", fontSize: 17})
  ]
});
place(legend, 601.7, 36.7);
</script></body></html>
